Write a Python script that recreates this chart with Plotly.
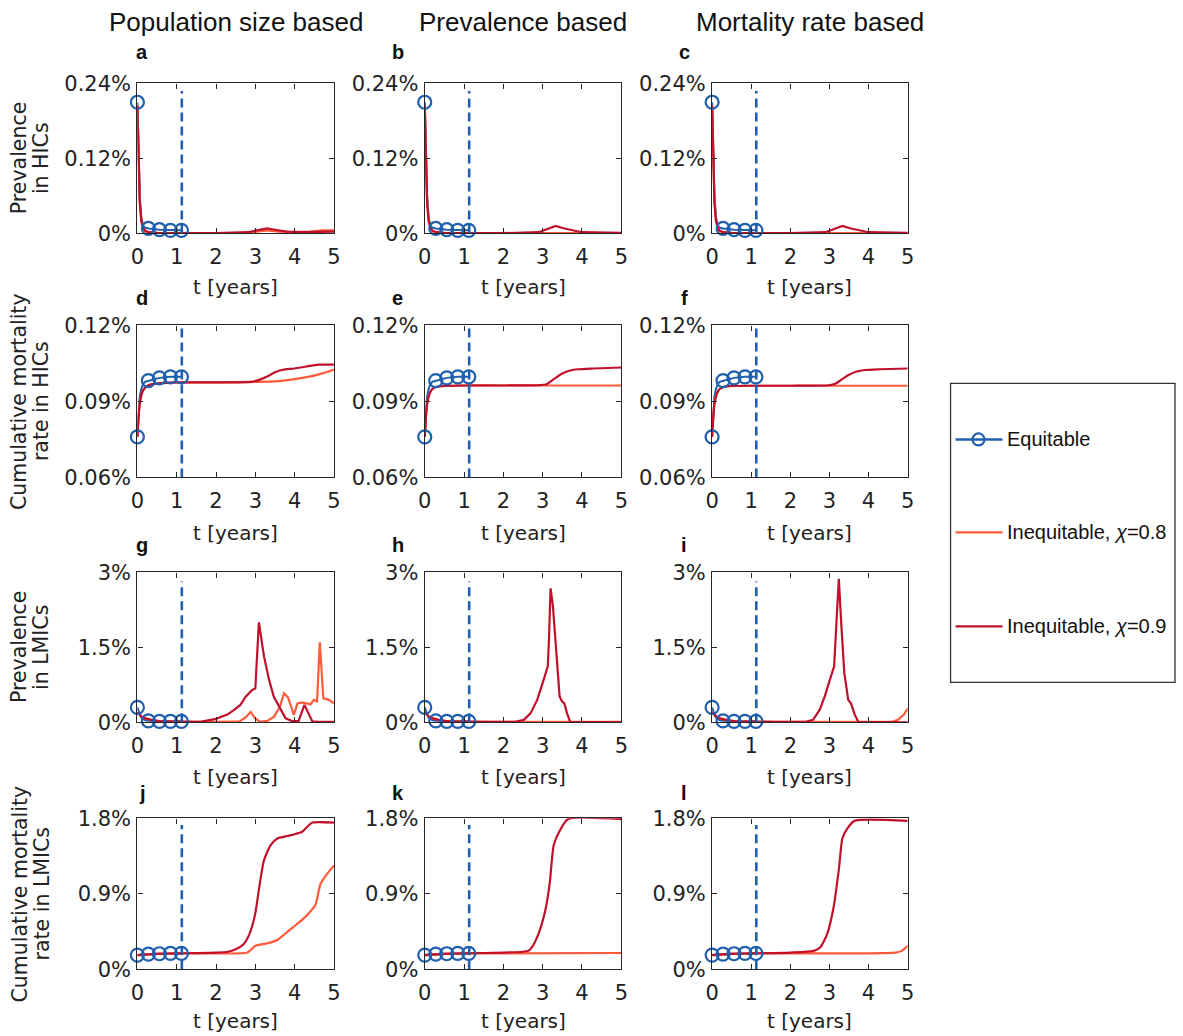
import plotly.graph_objects as go

W, H = 1183, 1036
FONT = "DejaVu Sans, Liberation Sans, Arial, sans-serif"
TITLE_FONT = "Liberation Sans, Arial, Helvetica, sans-serif"

BLUE = "#1f5fae"
ORANGE = "#ff5a3a"
RED = "#c0102c"
AXIS = "#262626"

# ---------------- labels ----------------
col_titles = ["Population size based", "Prevalence based", "Mortality rate based"]
row_titles = [["Prevalence", "in HICs"], ["Cumulative mortality", "rate in HICs"],
              ["Prevalence", "in LMICs"], ["Cumulative mortality", "rate in LMICs"]]
panel_letters = list("abcdefghijkl")
legend_names = ["Equitable", "Inequitable, <i>χ</i>=0.8", "Inequitable, <i>χ</i>=0.9"]
x_title = "t [years]"

x_ticks = [0, 1, 2, 3, 4, 5]
y_ranges = [[0, 0.24], [0.06, 0.12], [0, 3], [0, 1.8]]
y_ticks = [[0, 0.12, 0.24], [0.06, 0.09, 0.12], [0, 1.5, 3], [0, 0.9, 1.8]]
y_ticktext = [["0%", "0.12%", "0.24%"], ["0.06%", "0.09%", "0.12%"],
              ["0%", "1.5%", "3%"], ["0%", "0.9%", "1.8%"]]

# time at which the allocation switches (dashed line) and its top per row
switch_t = 1.13
switch_top = [0.228, 0.12, 2.82, 1.72]

# ---------------- equitable allocation (identical across columns) ----------------
eq_t = [0, 0.03, 0.06, 0.1, 0.15, 0.2, 0.28, 0.56, 0.84, 1.12]
eq_marker_t = [0, 0.28, 0.56, 0.84, 1.12]
eq_prev_hic = [0.21, 0.13, 0.06, 0.025, 0.012, 0.009, 0.008, 0.006, 0.005, 0.005]
eq_mort_hic = [0.076, 0.086, 0.092, 0.095, 0.097, 0.0978, 0.0982, 0.0993, 0.0997, 0.0997]
eq_prev_lmic = [0.30, 0.22, 0.15, 0.09, 0.06, 0.04, 0.03, 0.02, 0.02, 0.02]
eq_mort_lmic = [0.17, 0.172, 0.174, 0.176, 0.178, 0.18, 0.182, 0.186, 0.19, 0.19]

# ---------------- inequitable allocations (chi = 0.8 / 0.9) ----------------
# row 1: prevalence in HICs
a_t08 = [0, 0.03, 0.06, 0.1, 0.15, 0.2, 0.3, 0.5, 1, 2, 2.8, 3.1, 3.3, 3.6, 4.0, 4.4, 4.7, 5]
a_y08 = [0.205, 0.12, 0.05, 0.02, 0.008, 0.004, 0.002, 0.001, 0.0005, 0.0005, 0.001, 0.003, 0.005, 0.003, 0.002, 0.003, 0.005, 0.005]
a_t09 = [0, 0.03, 0.06, 0.1, 0.15, 0.2, 0.3, 0.5, 1, 2, 2.8, 3.1, 3.3, 3.5, 3.8, 4.2, 4.6, 5]
a_y09 = [0.205, 0.12, 0.05, 0.02, 0.008, 0.004, 0.002, 0.001, 0.0005, 0.0005, 0.002, 0.006, 0.008, 0.006, 0.003, 0.002, 0.002, 0.003]
b_t08 = [0, 0.03, 0.06, 0.1, 0.15, 0.2, 0.3, 0.5, 1, 5]
b_y08 = [0.205, 0.12, 0.05, 0.02, 0.008, 0.004, 0.002, 0.001, 0.0005, 0.0005]
b_t09 = [0, 0.03, 0.06, 0.1, 0.15, 0.2, 0.3, 0.5, 1, 2, 2.9, 3.1, 3.33, 3.55, 3.8, 4.0, 5]
b_y09 = [0.205, 0.12, 0.05, 0.02, 0.008, 0.004, 0.002, 0.001, 0.0005, 0.0005, 0.002, 0.007, 0.012, 0.008, 0.004, 0.002, 0.001]
c_t08 = [0, 0.03, 0.06, 0.1, 0.15, 0.2, 0.3, 0.5, 1, 5]
c_y08 = [0.205, 0.12, 0.05, 0.02, 0.008, 0.004, 0.002, 0.001, 0.0005, 0.0005]
c_t09 = [0, 0.03, 0.06, 0.1, 0.15, 0.2, 0.3, 0.5, 1, 2, 2.9, 3.1, 3.33, 3.55, 3.8, 4.0, 5]
c_y09 = [0.205, 0.12, 0.05, 0.02, 0.008, 0.004, 0.002, 0.001, 0.0005, 0.0005, 0.002, 0.007, 0.012, 0.008, 0.004, 0.002, 0.001]

# row 2: cumulative mortality rate in HICs
d_t08 = [0, 0.03, 0.06, 0.1, 0.15, 0.2, 0.3, 0.5, 1, 2, 3.0, 3.5, 4.0, 4.5, 4.8, 5]
d_y08 = [0.076, 0.084, 0.089, 0.0925, 0.0945, 0.0955, 0.0965, 0.097, 0.0975, 0.0975, 0.0977, 0.0979, 0.0988, 0.1002, 0.1015, 0.1026]
d_t09 = [0, 0.03, 0.06, 0.1, 0.15, 0.2, 0.3, 0.5, 1, 2, 2.9, 3.1, 3.3, 3.5, 3.7, 4.0, 4.3, 4.6, 5]
d_y09 = [0.076, 0.084, 0.089, 0.0925, 0.0945, 0.0955, 0.0965, 0.097, 0.0975, 0.0975, 0.0977, 0.0985, 0.0998, 0.1015, 0.1025, 0.1030, 0.1038, 0.1045, 0.1045]
e_t08 = [0, 0.03, 0.06, 0.1, 0.15, 0.2, 0.3, 0.5, 1, 5]
e_y08 = [0.076, 0.084, 0.089, 0.092, 0.094, 0.095, 0.0958, 0.0961, 0.0963, 0.0963]
e_t09 = [0, 0.03, 0.06, 0.1, 0.15, 0.2, 0.3, 0.5, 1, 2, 2.9, 3.1, 3.3, 3.5, 3.7, 3.9, 4.3, 5]
e_y09 = [0.076, 0.084, 0.089, 0.092, 0.094, 0.095, 0.0958, 0.0961, 0.0963, 0.0963, 0.0964, 0.0968, 0.0990, 0.1010, 0.1022, 0.1027, 0.1030, 0.1034]
f_t08 = [0, 0.03, 0.06, 0.1, 0.15, 0.2, 0.3, 0.5, 1, 5]
f_y08 = [0.076, 0.084, 0.089, 0.092, 0.094, 0.095, 0.0958, 0.0961, 0.0962, 0.0962]
f_t09 = [0, 0.03, 0.06, 0.1, 0.15, 0.2, 0.3, 0.5, 1, 2, 3.0, 3.15, 3.3, 3.5, 3.7, 3.9, 4.3, 5]
f_y09 = [0.076, 0.084, 0.089, 0.092, 0.094, 0.095, 0.0958, 0.0961, 0.0962, 0.0962, 0.0964, 0.0970, 0.0985, 0.1005, 0.1018, 0.1024, 0.1027, 0.1030]

# row 3: prevalence in LMICs
g_t08 = [0, 0.1, 0.2, 0.4, 0.6, 1.0, 2.0, 2.6, 2.75, 2.88, 3.0, 3.12, 3.3, 3.47, 3.62, 3.73, 3.83,
         3.98, 4.07, 4.19, 4.3, 4.4, 4.49, 4.57, 4.64, 4.73, 4.87, 5.0]
g_y08 = [0.2, 0.12, 0.08, 0.04, 0.02, 0.01, 0.01, 0.02, 0.1, 0.21, 0.08, 0.01, 0.03, 0.11, 0.3, 0.58, 0.5,
         0.15, 0.38, 0.4, 0.38, 0.36, 0.45, 0.42, 1.6, 0.48, 0.45, 0.38]
g_t09 = [0, 0.1, 0.2, 0.4, 0.6, 1.0, 1.6, 2.0, 2.3, 2.46, 2.62, 2.75, 2.92, 3.0, 3.09, 3.22, 3.35,
         3.47, 3.64, 3.77, 3.95, 4.1, 4.25, 4.35, 4.45, 4.6, 5]
g_y09 = [0.2, 0.12, 0.08, 0.04, 0.02, 0.01, 0.01, 0.07, 0.16, 0.25, 0.35, 0.51, 0.65, 0.68, 2.0, 1.32, 0.85,
         0.51, 0.25, 0.08, 0.02, 0.03, 0.35, 0.18, 0.02, 0.01, 0.01]
h_t08 = [0, 0.1, 0.2, 0.4, 0.6, 1.0, 5]
h_y08 = [0.2, 0.12, 0.08, 0.04, 0.02, 0.01, 0.01]
h_t09 = [0, 0.1, 0.2, 0.4, 0.6, 1.0, 1.6, 2.3, 2.52, 2.69, 2.86, 3.0, 3.09, 3.13, 3.16, 3.2, 3.26,
         3.35, 3.43, 3.49, 3.55, 3.62, 3.7, 5.0]
h_y09 = [0.2, 0.12, 0.08, 0.04, 0.02, 0.01, 0.01, 0.01, 0.05, 0.18, 0.45, 0.79, 1.02, 1.12, 1.66, 2.68, 2.33,
         1.32, 0.52, 0.42, 0.38, 0.18, 0.01, 0.0]
i_t08 = [0, 0.1, 0.2, 0.4, 0.6, 1.0, 4.6, 4.75, 4.9, 5]
i_y08 = [0.2, 0.12, 0.08, 0.04, 0.02, 0.01, 0.01, 0.05, 0.15, 0.28]
i_t09 = [0, 0.1, 0.2, 0.4, 0.6, 1.0, 1.6, 2.4, 2.58, 2.75, 2.88, 3.01, 3.12, 3.18, 3.24, 3.3,
         3.38, 3.48, 3.55, 3.65, 3.74, 5.0]
i_y09 = [0.2, 0.12, 0.08, 0.04, 0.02, 0.01, 0.01, 0.01, 0.05, 0.25, 0.52, 0.85, 1.12, 2.0, 2.87, 2.0,
         0.99, 0.45, 0.38, 0.15, 0.01, 0.0]

# row 4: cumulative mortality rate in LMICs
j_t08 = [0, 0.5, 1, 2, 2.8, 3.0, 3.3, 3.56, 3.77, 3.98, 4.19, 4.4, 4.53, 4.66, 4.83, 5]
j_y08 = [0.17, 0.185, 0.19, 0.19, 0.2, 0.28, 0.31, 0.35, 0.43, 0.51, 0.59, 0.69, 0.77, 1.02, 1.14, 1.24]
j_t09 = [0, 0.5, 1, 2, 2.3, 2.5, 2.7, 2.85, 3.0, 3.09, 3.22, 3.39, 3.56, 3.81, 4.0, 4.19, 4.32, 4.45, 5]
j_y09 = [0.17, 0.185, 0.19, 0.2, 0.21, 0.24, 0.3, 0.42, 0.67, 0.95, 1.3, 1.48, 1.56, 1.59, 1.61, 1.64, 1.70, 1.75, 1.75]
k_t08 = [0, 0.5, 1, 5]
k_y08 = [0.17, 0.185, 0.19, 0.195]
k_t09 = [0, 0.5, 1, 2, 2.5, 2.63, 2.72, 2.89, 3.07, 3.18, 3.28, 3.42, 3.64, 5]
k_y09 = [0.17, 0.185, 0.19, 0.2, 0.21, 0.22, 0.26, 0.42, 0.71, 1.03, 1.48, 1.64, 1.79, 1.79]
l_t08 = [0, 0.5, 1, 4.69, 4.85, 5]
l_y08 = [0.17, 0.185, 0.19, 0.2, 0.22, 0.28]
l_t09 = [0, 0.5, 1, 2, 2.6, 2.76, 2.94, 3.11, 3.25, 3.33, 3.46, 3.64, 5]
l_y09 = [0.17, 0.185, 0.19, 0.2, 0.22, 0.26, 0.42, 0.75, 1.23, 1.56, 1.68, 1.77, 1.77]

eq_rows = [eq_prev_hic, eq_mort_hic, eq_prev_lmic, eq_mort_lmic]
ineq = [
    (a_t08, a_y08, a_t09, a_y09), (b_t08, b_y08, b_t09, b_y09), (c_t08, c_y08, c_t09, c_y09),
    (d_t08, d_y08, d_t09, d_y09), (e_t08, e_y08, e_t09, e_y09), (f_t08, f_y08, f_t09, f_y09),
    (g_t08, g_y08, g_t09, g_y09), (h_t08, h_y08, h_t09, h_y09), (i_t08, i_y08, i_t09, i_y09),
    (j_t08, j_y08, j_t09, j_y09), (k_t08, k_y08, k_t09, k_y09), (l_t08, l_y08, l_t09, l_y09),
]

# ---------------- panel geometry (pixel grid) ----------------
col_px = [(136, 333), (424, 621), (712, 908)]
row_px = [(83, 233), (325, 477), (572, 722), (818, 969)]

# grid-to-paper mapping (slight outward stretch of the pixel grid)
GX, OX = 0.9904, 5.3
GY, OY = 0.977, 11.5


def px(x):
    return min(((x - OX) / GX) / W, (W - 1) / W)


def py(y):
    return 1 - ((y - OY) / GY) / H


fig = go.Figure()
layout = {}

for k in range(12):
    r, c = divmod(k, 3)
    xa = "x" if k == 0 else f"x{k + 1}"
    ya = "y" if k == 0 else f"y{k + 1}"
    t08, y08, t09, y09 = ineq[k]
    eqv = eq_rows[r]
    # cumulative rows are smooth S-curves; prevalence rows keep their sharp peaks
    shape = "spline" if r in (1, 3) else "linear"

    # equitable line (beneath the inequitable curves)
    fig.add_trace(go.Scatter(x=eq_t, y=eqv, mode="lines", line=dict(color=BLUE, width=2),
                             xaxis=xa, yaxis=ya, showlegend=False, hoverinfo="skip"))
    fig.add_trace(go.Scatter(x=t08, y=y08, mode="lines",
                             line=dict(color=ORANGE, width=2.2, shape=shape, smoothing=0.6),
                             xaxis=xa, yaxis=ya, showlegend=False, name=legend_names[1]))
    fig.add_trace(go.Scatter(x=t09, y=y09, mode="lines",
                             line=dict(color=RED, width=2.2, shape=shape, smoothing=0.6),
                             xaxis=xa, yaxis=ya, showlegend=False, name=legend_names[2]))
    # equitable markers
    mk_y = [eqv[eq_t.index(t)] for t in eq_marker_t]
    fig.add_trace(go.Scatter(x=eq_marker_t, y=mk_y, mode="markers", cliponaxis=False,
                             marker=dict(symbol="circle-open", size=13, color=BLUE,
                                         line=dict(color=BLUE, width=2.2)),
                             xaxis=xa, yaxis=ya, showlegend=False, name=legend_names[0]))
    # allocation switch
    fig.add_trace(go.Scatter(x=[switch_t, switch_t], y=[y_ranges[r][0], switch_top[r]], mode="lines",
                             line=dict(color=BLUE, width=2.6, dash="9px,5px"),
                             xaxis=xa, yaxis=ya, showlegend=False, hoverinfo="skip"))

    x0, x1 = col_px[c]
    y0, y1 = row_px[r]
    axis_common = dict(ticks="inside", ticklen=5, tickwidth=1, tickcolor=AXIS,
                       showline=True, linecolor=AXIS, linewidth=1.3, mirror="ticks",
                       showgrid=False, zeroline=False,
                       tickfont=dict(family=FONT, size=21, color="#222"))
    layout["xaxis" if k == 0 else f"xaxis{k + 1}"] = dict(
        domain=[px(x0), px(x1)], range=[0, 5], tickvals=x_ticks, anchor=ya,
        ticklabelstandoff=4, **axis_common)
    layout["yaxis" if k == 0 else f"yaxis{k + 1}"] = dict(
        domain=[py(y1), py(y0)], range=y_ranges[r], tickvals=y_ticks[r], ticktext=y_ticktext[r],
        anchor=xa, ticklabelstandoff=1, **axis_common)

annotations = []
# column titles
for c, title in enumerate(col_titles):
    x0, x1 = col_px[c]
    annotations.append(dict(text=title, x=px((x0 + x1) / 2), y=py(22), xref="paper", yref="paper",
                            showarrow=False, xanchor="center", yanchor="middle",
                            font=dict(family=TITLE_FONT, size=26, color="#111")))
# row titles, two rotated lines each
for r, lines in enumerate(row_titles):
    y0, y1 = row_px[r]
    for line_x, text in zip((18, 40), lines):
        annotations.append(dict(text=text, x=px(line_x), y=py((y0 + y1) / 2), xref="paper",
                                yref="paper", showarrow=False, xanchor="center", yanchor="middle",
                                textangle=-90, font=dict(family=FONT, size=20.5, color="#222")))
# x-axis titles and panel letters
x_title_y = [287, 533, 777, 1021]
letter_y = [52, 298, 545, 793]
letter_x = [141, 397, 684]
for k in range(12):
    r, c = divmod(k, 3)
    x0, x1 = col_px[c]
    annotations.append(dict(text=x_title, x=px((x0 + x1) / 2), y=py(x_title_y[r]), xref="paper",
                            yref="paper", showarrow=False, xanchor="center", yanchor="middle",
                            font=dict(family=FONT, size=20, color="#222")))
    annotations.append(dict(text=f"<b>{panel_letters[k]}</b>", x=px(letter_x[c]), y=py(letter_y[r]),
                            xref="paper", yref="paper", showarrow=False, xanchor="center",
                            yanchor="middle", font=dict(family=TITLE_FONT, size=20, color="#111")))

# legend box
shapes = [dict(type="rect", xref="paper", yref="paper", x0=px(951), x1=px(1182), y0=py(682), y1=py(383),
               line=dict(color="#333", width=1.3), fillcolor="white")]
legend_y = [439, 532, 626]
legend_colors = [BLUE, ORANGE, RED]
for n, (name, ly, col) in enumerate(zip(legend_names, legend_y, legend_colors)):
    shapes.append(dict(type="line", xref="paper", yref="paper", x0=px(956), x1=px(1003),
                       y0=py(ly), y1=py(ly), line=dict(color=col, width=2.4)))
    if n == 0:
        shapes.append(dict(type="circle", xref="paper", yref="paper", x0=px(973), x1=px(985),
                           y0=py(ly + 6), y1=py(ly - 6), line=dict(color=BLUE, width=2.2)))
    annotations.append(dict(text=name, x=px(1006), y=py(ly), xref="paper", yref="paper",
                            showarrow=False, xanchor="left", yanchor="middle",
                            font=dict(family=TITLE_FONT, size=20, color="#111")))

fig.update_layout(width=W, height=H, margin=dict(l=0, r=0, t=0, b=0),
                  paper_bgcolor="white", plot_bgcolor="white",
                  annotations=annotations, shapes=shapes, showlegend=False, **layout)

fig.write_html("out.html")
